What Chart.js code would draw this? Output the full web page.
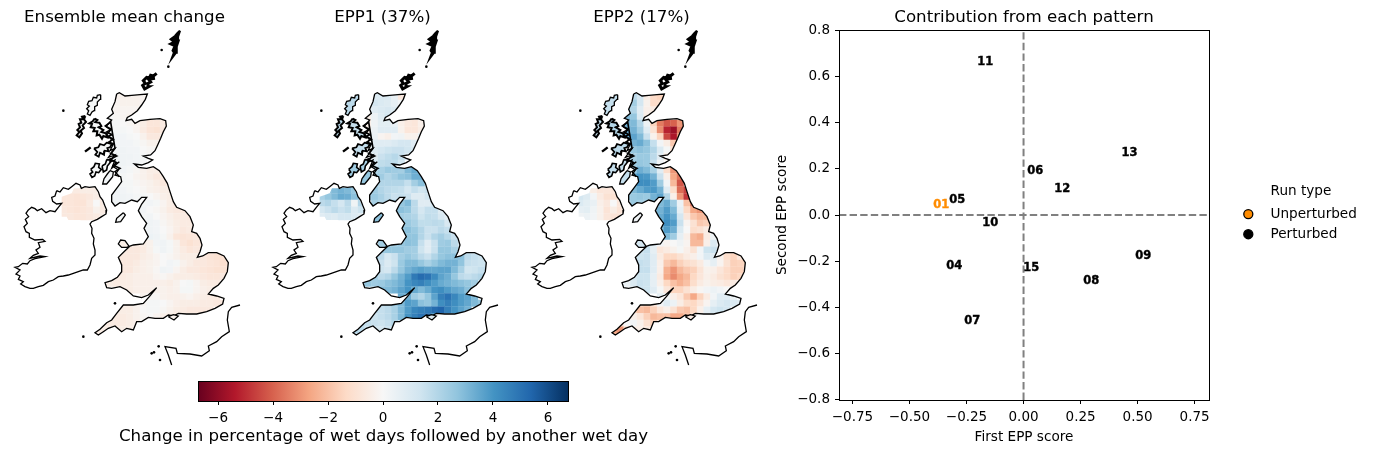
<!DOCTYPE html>
<html><head><meta charset="utf-8">
<style>html,body{margin:0;padding:0;background:#fff;width:1376px;height:454px;overflow:hidden}canvas{position:absolute}</style>
<script src="https://cdn.jsdelivr.net/npm/chart.js@4/dist/chart.umd.js"></script>
</head><body>
<canvas id="m0" width="249" height="370" style="left:0;top:0"></canvas>
<canvas id="m1" width="249" height="370" style="left:258px;top:0"></canvas>
<canvas id="m2" width="249" height="370" style="left:517px;top:0"></canvas>
<canvas id="cb" width="567" height="84" style="left:100px;top:370px"></canvas>
<canvas id="sc" width="450" height="454" style="left:770px;top:0"></canvas>
<canvas id="lg" width="141" height="100" style="left:1235px;top:166px"></canvas>
<script>
// ---------- data ----------
const panelTitles=['Ensemble mean change','EPP1 (37%)','EPP2 (17%)'];
// grid rows: northing of each row, easting of first cell (map units); last 5 rows are Northern Ireland
const gridY=[230,250,270,290,310,330,350,370,390,410,430,450,470,490,510,530,550,570,590,610,630,650,670,690,710,730,750,770,790,810,830,850,870,890,910,930,950,510,530,550,570,590];
const gridStart=[350,350,330,330,330,330,330,350,350,350,350,350,350,350,350,330,350,410,430,430,430,450,370,350,350,370,350,330,310,370,430,370,350,330,310,290,290,190,190,190,190,190];
const meanChange=[
[-.3,-.3,-.3,-.3,-.2],[-.2,-.3,-.3,-.3,-.2],[0,-.2,-.2,-.2,-.2],[0,-.1,-.2,-.3],
[0,.1,0,-.1,-.2,-.5,-.8,-.8,-.6],[.1,.1,.1,0,-.2,-.6,-.9,-1,-.7],[.2,.2,.2,.1,0,-.3,-.7,-.7,-.5],
[.2,.2,.2,.1,-.1,-.3,-.3],[.2,.3,.2,.2,0,-.1,-.1],[.3,.3,.3,.2,.1,0],[.3,.3,.2,.2,.1],
[.2,.2,.1,-.1,-.3,-.5,-.5],[.2,.1,0,-.2,-.3,-.5,-.7,-.6],[.2,.1,.1,-.1,-.2,-.3,-.5,-.7],
[.3,.2,.1,0,-.1,-.3,-.4,-.5,-.5],[.2,.3,.3,.2,.1,.1,0,-.2,-.4,-.5],[.3,.3,.3,.2,.1,.2,.1,-.2,-.5,-.7],
[.2,.2,0,-.1,-.3,-.6,-.7,-.7],[.1,.2,0,-.2,-.4,-.6,-.6,-.7],[.2,.3,.2,-.1,-.3,-.5,-.6,-.6,-.7],
[.2,.3,.2,0,-.2,-.5,-.7,-.6,-.5],[.4,.3,.1,-.3,-.8,-.9,-.8,-.7,-.6],
[-.5,-.6,-.6,-.5,-.3,.2,.3,.1,-.3,-.8,-1,-.8,-.7],[-.3,-.6,-.7,-.7,-.6,-.3,.1,.3,.1,-.3,-.6,-.8,-.7,-.7],
[-.3,-.7,-.7,-.7,-.5,-.4,-.2,0,-.1,-.3,-.5,-.5,-.5,-.7,-.9,-1,-1],
[-.7,-.7,-.6,-.4,-.3,-.2,0,.2,.1,-.3,-.5,-.7,-.7,-.8,-.9,-1.1,-1],
[-.6,-.7,-.7,-.5,-.4,-.3,-.1,.3,.2,-.2,-.5,-.7,-.7,-.8,-.9,-1,-1,-.9],
[-.6,-.6,-.6,-.5,-.4,-.4,-.4,-.2,-.1,-.3,-.5,-.5,-.5,-.6,-.7,-.8,-.8,-.7],
[-.5,-.5,-.6,-.5,-.5,-.4,-.4,-.4,-.4,-.4,-.5,-.3,0,.1,-.2,-.5,-.6,-.6],
[-.5,-.5,-.4,-.4,-.4,-.3,-.3,-.4,-.3,.1,.1,-.2,-.4,-.5],
[-.3,-.1,-.1,-.3,-.4,-.4,-.3,-.2,-.4,-.5,-.6,-.6],
[-.3,-.5,-.3,-.1,.1,.1,0,-.2,-.4,-.5,-.5,-.5,-.6,-.6,-.7,-.7],
[-.5,-.5,-.5,-.3,0,.1,.1,-.1,-.3,-.5,-.6,-.7,-.7,-.7,-.7],
[-.5,-.6,-.6,-.5,-.3,-.1,0,-.2,-.4,-.5,-.6,-.6],
[-.5,-.6,-.6,-.6,-.5,-.4],[-.5,-.5,-.5,-.5,-.5,-.5],[-.5,-.5],
[-.6,-.6,-.6,-.5,-.5,-.5,-.5],[-.8,-.8,-.9,-.8,-.7,-.5,-.5],[-.8,-.8,-.9,-.9,-.6,0,-.6],[-.7,-.8,-.9,-.8,-.7,-.3,-.6],[-.7,-.7,-.8,-.8,-.7,-.6,-.5]];
const epp1=[
[1,1,1,.5,-.7],[1.2,1,.9,.6,.2],[.3,.8,1,1.1,1],[-.4,.4,.9,1.3],
[-.4,.3,.7,.7,.5,-.4,-.7,-.8,-.4],[-.4,.4,.8,.8,.8,-.3,-.8,-.8,-.5],[.4,.4,-.2,-.4,.2,.3,-.3,-.3,.5],
[.8,.8,.8,1,1.2,1.2,.8],[1,1.2,1.4,1.5,1.5,1.3,1.2],[.9,1.5,1.7,1.9,1.6,1],[1.2,1.7,1.8,1.7,1.3],
[1.9,2.2,2.5,2.4,2.3,3,3.4],[2.3,2.4,2,2.3,2.7,2.8,3.3,3.3],[2.3,2,2,2,2,1.6,2.3,2.8],
[2.4,2,1.8,1.7,1.6,1.2,1.6,1.3,1.5],[2.5,2.5,2.2,1.8,1.5,1.6,1.5,.9,.9,1.3],[2.2,2,2,2.2,2.6,3,1.8,.8,.8,1.2],
[2.4,2.8,2.6,1.8,1.2,1.6,1.6,.9],[2.3,2.2,2,1.4,1.7,1.6,1.1,.7],[2.4,2.5,2.2,1.7,1.7,1.8,1.7,1.1,.9],
[2.7,2.8,2.5,2,1.5,1.5,1.8,1.6,1.1],[2.7,2.7,2,1.5,2,2.3,1.9,1.5,.8],
[2.3,2.4,2.4,2.6,2.8,2.7,1.6,.8,1.5,2.4,2.5,1.8,1.2],[2.6,2.6,2.6,2.6,2.6,2.4,2.3,1.4,.8,1.5,2.6,2.6,2.2,1.4],
[2.5,1.8,1.2,1.5,2.3,2.6,2.3,1.8,1.5,2,2.6,2.8,2.8,2.8,1.8,1.6,1.4],
[1.5,1,1.4,2.5,3,3,2.6,2.2,2.6,3,3.2,3.2,2.7,1.6,1.5,1.4,1.5],
[1.8,1.4,1.2,1.8,2.6,3.2,3.5,3.7,3.5,3.5,3.6,3.6,3,2.2,1.3,1.4,1.6,1.8],
[2.5,2.3,1.8,2,2.6,3.2,3.8,4.8,5.2,5,4.3,3.6,3.3,2.6,1.8,1.6,1.8,2],
[2.6,2.6,2.4,2.5,2.8,3,3.3,4,4.4,4.6,4.2,3.8,3.4,3.2,3,2.8,2.6,2.3],
[3,3,3.2,3.6,4,3.4,3,3.4,4,4.2,3.8,3.5,3.3,2.8],
[3.4,3.3,2.4,2,2.6,3.6,4.6,5,4.4,3.8,3.6,3],
[2,2.2,2.6,3,3.8,3.6,2.8,2.6,3.2,4.2,4.6,4.2,3.8,3.5,3,2.6],
[1.8,1.6,1.8,2.2,3,3.8,4.4,4.6,4.8,5.2,5.4,4.6,4,3.6,3.2],
[1.6,1.4,1.6,1.8,2.2,3,4,4.6,5,5.2,4,3],
[1.8,1.6,1.5,1.4,1.6,2],[2,1.8,1.4,1.2,1.2,1.4],[1.5,1.5],
[2.6,2.6,3,3.2,3,2.6,2.2],[2.2,2.6,3,3.4,3.3,2.8,2.4],[1.8,2,1.6,1.2,1.8,.3,2],[1.2,1.5,1.8,1.5,1.7,1,1.4],[.8,1,.9,1.2,1.2,1,.7]];
const epp2=[
[1.8,1.2,-.5,-1.3,-1.5],[2.3,1.2,-.3,-1.3,-1.2],[2.6,2,.8,-.4,-.6],[3,2.6,1,-.5],
[3.2,3,2,.4,-1.5,-3.5,-4.2,-4,-3],[3.5,3.2,2.4,.8,-1,-3.2,-5.2,-5.8,-3.5],[3.4,3.6,3,1.5,-.3,-1.5,-4.5,-5.5,-3],
[3.2,3.4,2.8,1.6,.2,-.5,-1.8],[2.6,2.8,2.6,2,1,.1,-1],[2.2,2.5,2.5,1.8,.8,-.5],[2.4,2.6,2.5,1.5,.2],
[2.5,3.3,3,2.2,.8,-1.2,-3],[3.5,4,3.9,3.2,1.5,-.4,-2.6,-3.6],[3.5,4.2,4.2,3.8,2.4,.2,-2.2,-4.2],
[3,3.4,3.8,3.9,3.2,.8,-1.2,-3.8,-4.6],[2.5,2.5,2.6,2.5,3.2,3.6,2,-.4,-3,-4.8],[2.5,2.3,2.2,2.6,3,3.4,2.4,.4,-2,-3.8],
[2.6,3.2,3.8,3,.6,-1.4,-2.6,-3],[3.4,4,3.4,1.2,-.8,-1.8,-2.2,-2.2],[3.4,4.2,3.8,1.5,-.2,-1,-1.8,-1.6,-1.4],
[3,3.8,3.3,1,0,-1.2,-1,-.6,-.8],[3,2.4,.6,-.4,-2.2,-2.5,-.6,.3,-.6],
[1.2,1.6,.8,.2,-.2,0,.3,-.2,-2.2,-2.2,-.4,1,.2],[1.2,1.4,1.6,.6,-.8,-.6,-.3,.1,-.4,-1,.2,1.4,1.5,.4],
[1,1.4,1.5,.8,-.6,-1.4,-1.4,-1,-.6,-.4,.2,1,.8,-.3,-1.2,-1.5,-.8],
[1.6,1.5,.8,-.4,-1.8,-2.2,-1.6,-1.2,-1,-.6,.2,.6,-.2,-1,-1.6,-1.5,-1.5],
[1.2,1.6,1.6,.8,-.4,-2.4,-3,-2.2,-1.8,-1.6,-.9,-.3,-.4,-.8,-1.3,-1.6,-1.6,-1.3],
[1.2,1.2,1.4,1.4,.6,-.6,-2.6,-3.2,-2.6,-2.2,-1.4,-.8,-.4,-.6,-1,-1.3,-1.6,-1.4],
[.3,.4,1,1.5,1.4,.6,-.4,-1.4,-2,-2.4,-2,-1.2,-.6,-.3,-.5,-.6,-.8,-.6],
[1.5,1.4,.8,.1,-.8,-1.5,-1.5,-1,-.5,-.1,.2,.4,.2,0],
[.6,.2,-.4,-.8,-1.8,-2.6,-1.5,-.6,.2,.8,.8,.4],
[-1.2,-1.6,-.8,.2,.8,.4,-.5,-1.2,-1.4,-.8,-.2,.6,1,1.2,1,.8],
[-1.5,-2,-2.2,-1.6,-.8,-.4,-1,-1.8,-2,-1.4,-.4,.6,1.2,1.4,1.2],
[-.8,-.4,-.8,-1.6,-2.2,-2,-2,-2.6,-2.6,-2,-1.2,-.4],
[-1.2,0,.2,-.3,-1,-1.6],[-2.6,-3,-1.4,-.6,-.4,-.6],[-2.6,-2.6],
[.6,.3,-.5,-.8,-.8,-.8,-.9],[1.2,.9,.2,-.6,-1,-1,-.9],[1,.7,.5,-.4,-.7,0,-.8],[.6,.7,.3,-.3,-.9,-.5,-.9],[.3,.4,.2,-.3,-.8,-.9,-.9]];
const panelValues=[meanChange,epp1,epp2];

// coastlines, easting/northing pairs in map units
const gbCoast=[350,222,358,218,375,228,395,226,420,224,442,222,436,238,425,255,412,272,395,285,382,292,378,302,395,298,405,310,420,302,450,298,480,296,497,302,499,318,490,335,482,355,473,375,465,392,452,405,430,408,445,415,458,420,445,428,425,435,403,432,415,442,440,445,460,440,478,452,490,470,502,490,510,515,520,545,530,562,555,572,570,590,580,615,575,635,590,640,600,655,606,675,600,695,592,712,608,708,625,698,650,698,672,708,685,728,682,755,672,775,655,795,640,805,625,822,650,828,672,835,668,852,645,865,620,875,590,882,560,882,535,880,520,888,505,885,490,895,465,895,445,892,425,905,410,905,400,930,380,925,365,935,345,918,325,925,310,935,295,945,285,938,300,928,320,908,335,900,350,880,370,855,400,855,430,850,448,830,470,803,445,825,425,833,400,828,380,810,360,800,335,805,320,803,315,788,335,782,352,772,365,755,365,735,355,712,372,695,388,680,375,662,362,660,355,672,365,682,380,682,400,675,430,672,445,650,432,625,440,610,425,590,415,572,425,552,440,532,425,532,412,545,395,540,375,550,360,548,345,558,335,545,335,525,350,505,365,485,362,470,345,465,355,450,340,440,358,425,335,445,345,420,328,428,345,405,325,412,345,385,330,392,340,372,325,378,335,355,320,345,332,330,318,320,335,300,322,295,340,280,335,268,345,245,350,222];
const niMask=[185,530,215,520,222,505,245,505,285,500,305,540,320,575,295,598,280,606,245,606,240,600,205,600,200,590,185,590,185,530];
const irelandCoast=[170,512,180,516,190,503,205,508,215,500,228,490,240,495,244,505,255,500,268,502,285,500,295,515,300,530,308,540,314,556,320,570,318,582,305,590,292,598,275,605,270,612,276,625,275,640,282,655,280,672,285,690,285,705,275,715,270,735,262,750,250,750,235,755,220,760,205,765,190,768,175,770,160,780,145,785,130,796,115,800,100,805,90,805,75,800,62,792,70,785,55,778,60,768,48,762,60,750,45,742,55,740,68,730,82,732,90,722,105,716,135,710,120,708,90,715,100,706,115,700,108,690,120,682,115,668,135,664,128,658,105,660,88,652,88,640,78,635,72,620,82,610,76,598,86,590,78,580,85,570,95,562,105,566,112,572,125,566,138,578,150,572,165,575,175,562,185,550,170,552,158,544,155,532,165,528,170,512];
const franceCoast=[720,855,695,862,685,875,682,900,688,935,665,950,650,965,625,978,628,992,605,1008,570,1002,532,1000,528,985,495,980,505,1005,515,1035];
const lewis=[302,224,292,226,290,234,280,232,276,242,266,244,262,254,268,258,260,266,266,272,262,282,270,286,276,276,282,272,284,260,292,256,292,246,300,238,302,224];
const uist=[256,288,246,290,250,298,240,298,244,308,236,312,240,322,232,330,238,336,230,346,238,352,246,340,242,332,252,324,248,316,258,306,252,298,256,288];
const skye=[284,296,292,300,286,306,298,308,304,318,296,322,310,330,304,336,318,340,322,352,310,348,306,356,298,344,290,346,292,334,280,334,284,324,272,322,276,312,268,310,278,304,284,296];
const mull=[282,385,295,382,300,372,312,376,320,368,336,372,330,382,322,384,326,394,314,392,312,404,300,398,296,410,286,404,292,396,282,385];
const islay=[272,448,282,440,286,430,298,432,296,442,304,448,296,458,288,456,284,468,276,472,270,462,278,456,272,448];
const jura=[306,438,316,432,320,420,332,418,330,428,322,438,320,450,310,456,306,438];
const kintyre=[330,452,340,456,338,470,330,480,320,492,308,492,312,476,322,462,330,452];
const isleOfMan=[370,578,376,585,362,605,347,607,350,595,370,578];
const isleOfWight=[505,890,520,884,535,888,522,900,505,890];
const shetland=[540,32,532,40,525,48,512,58,522,66,510,72,524,78,518,92,522,98,516,114,528,98,530,80,536,62,534,50,540,32];
const orkney=[470,160,460,168,452,166,448,174,440,172,430,182,436,190,428,196,434,207,446,200,444,190,452,186,446,178,465,175];
const skerries=[255,395,272,382];
const lochs=[342,372,326,366,340,358,322,350,336,344,320,336,334,328,316,318,332,306,345,385,332,400,350,408,330,418,350,428,340,436,360,445,345,455,358,470];
const islets=[190,272,485,90,505,140,345,850,250,950,455,1000,462,997,480,1020,476,979];
// colour of each island per panel: meanChange, epp1, epp2
const islandShapes=[lewis,uist,skye,mull,islay,jura,kintyre,isleOfMan,isleOfWight];
const islandStroke=[1.3,2,2,1.8,1.6,1.6,1.3,1.3,1.2];
const islandValues=[[.1,.1,.1,.1,.1,.1,.2,.1,-.3],[1.8,1.8,1.6,1.6,2.4,2.2,2.6,2.8,1],[1.6,1.6,2,1.8,1.6,1.6,1.6,.3,-.6]];

const colourbarRange=[-6.73,6.73];
const colourbarTicks=[-6,-4,-2,0,2,4,6];
const colourbarLabel='Change in percentage of wet days followed by another wet day';
const rdbuStops=['#67001f','#b2182b','#d6604d','#f4a582','#fddbc7','#f7f7f7','#d1e5f0','#92c5de','#4393c3','#2166ac','#053061'];

const runIds=['05','06','10','11','12','13','04','15','08','09','07'];
const firstScore=[-.294,.048,-.149,-.171,.167,.461,-.307,.031,.294,.522,-.228];
const secondScore=[.07,.196,-.03,.67,.117,.274,-.217,-.226,-.283,-.174,-.457];
const unperturbedIds=['01'];
const unperturbedFirst=[-.364];
const unperturbedSecond=[.048];
const xLimits=[-.809,.813];
const yLimits=[-.804,.804];
const xTicks=[-.75,-.5,-.25,0,.25,.5,.75];
const yTicks=[-.8,-.6,-.4,-.2,0,.2,.4,.6,.8];

// ---------- helpers ----------
const FONT='"DejaVu Sans"';
Chart.defaults.font.family=FONT;
Chart.defaults.color='#000';
const MINUS='\u2212';
const fmt=(v,d)=>(v<0?MINUS:'')+Math.abs(v).toFixed(d);
const toPts=f=>{const o=[];for(let i=0;i<f.length;i+=2)o.push({x:f[i],y:f[i+1]});return o;};
const hex=h=>[1,3,5].map(i=>parseInt(h.slice(i,i+2),16));
function rdbu(v){
  let t=(v+6.73)/13.46; t=Math.max(0,Math.min(1,t))*10;
  const i=Math.min(9,Math.floor(t)),f=t-i,a=hex(rdbuStops[i]),b=hex(rdbuStops[i+1]);
  return 'rgb('+a.map((c,k)=>Math.round(c+(b[k]-c)*f)).join(',')+')';
}
const line=(flat,w,fill)=>({type:'scatter',showLine:true,data:toPts(flat),borderColor:'#000',borderWidth:w,pointRadius:0,tension:0,fill:fill?'shape':false,backgroundColor:fill||'transparent',order:1});

const landClip={id:'landClip',
  beforeDatasetDraw(c,a){ if(a.meta.controller.getDataset().isCells){
    const x=c.scales.x,y=c.scales.y,ctx=c.ctx;ctx.save();ctx.beginPath();
    [gbCoast,niMask].forEach(p=>{for(let i=0;i<p.length;i+=2){const X=x.getPixelForValue(p[i]),Y=y.getPixelForValue(p[i+1]);i?ctx.lineTo(X,Y):ctx.moveTo(X,Y);}ctx.closePath();});
    ctx.clip();}},
  afterDatasetDraw(c,a){ if(a.meta.controller.getDataset().isCells)c.ctx.restore(); }
};

panelTitles.forEach((title,p)=>{
  const cells=[];
  panelValues[p].forEach((row,r)=>row.forEach((v,j)=>cells.push({x:gridStart[r]+20*j,y:gridY[r],v})));
  const datasets=[
    {type:'scatter',isCells:true,data:cells,pointStyle:'rect',pointRadius:4.95,pointBorderWidth:0,borderWidth:0,
     pointBackgroundColor:c=>rdbu(c.raw.v),order:3},
    ...islandShapes.map((s,i)=>line(s,islandStroke[i],rdbu(islandValues[p][i]))),
    line(gbCoast,1.3),line(irelandCoast,1.3),line(franceCoast,1.3),line(lochs,1.6),
    line(shetland,2.2,'#000'),line(orkney,3),line(skerries,2.4),
    {type:'scatter',data:toPts(islets),pointRadius:1.3,pointBorderWidth:0,pointBackgroundColor:'#000',order:1}
  ];
  new Chart(document.getElementById('m'+p),{type:'scatter',plugins:[landClip],data:{datasets},options:{
    responsive:false,animation:false,events:[],
    layout:{padding:0,autoPadding:false},
    plugins:{legend:{display:false},tooltip:{enabled:false},
      title:{display:true,text:title,font:{size:16.67,weight:'normal',lineHeight:1.2},padding:{top:8,bottom:2},color:'#000'}},
    scales:{x:{type:'linear',display:false,min:0,max:747},y:{type:'linear',display:false,min:30,max:1050,reverse:true}}
  }});
});

const frame={id:'frame',afterDatasetsDraw(c){const a=c.chartArea,x=c.ctx;x.save();x.strokeStyle='#000';x.lineWidth=1;
  x.strokeRect(Math.round(a.left)+.5,Math.round(a.top)+.5,Math.round(a.width),Math.round(a.height));x.restore();}};
const titleOverArea={id:'titleOverArea',afterLayout(c){c.titleBlock.left=c.chartArea.left;c.titleBlock.right=c.chartArea.right;}};
const titleFullWidth={id:'titleFullWidth',afterLayout(c){c.titleBlock.left=0;c.titleBlock.right=c.width;}};

new Chart(document.getElementById('cb'),{type:'bar',plugins:[frame,titleFullWidth],
  data:{labels:[''],datasets:[{data:[colourbarRange],barPercentage:1,categoryPercentage:1,borderWidth:0,
    backgroundColor(c){const a=c.chart.chartArea;if(!a)return '#fff';
      const g=c.chart.ctx.createLinearGradient(a.left,0,a.right,0);
      rdbuStops.forEach((s,i)=>g.addColorStop(i/10,s));return g;}}]},
  options:{indexAxis:'y',responsive:false,animation:false,events:[],
    layout:{padding:{left:98,right:99,top:11,bottom:0},autoPadding:false},
    plugins:{legend:{display:false},tooltip:{enabled:false},
      title:{display:true,position:'bottom',text:colourbarLabel,font:{size:16.67,weight:'normal',lineHeight:1.2},color:'#000',padding:{top:0,bottom:7}}},
    scales:{
      y:{display:false},
      x:{type:'linear',min:colourbarRange[0],max:colourbarRange[1],
        afterBuildTicks:s=>{s.ticks=colourbarTicks.map(value=>({value}));},
        afterFit:s=>{s.height=26;},
        grid:{drawOnChartArea:false,color:'#000',tickLength:4,tickWidth:1},border:{color:'#000'},
        ticks:{maxRotation:0,padding:5,font:{size:13.5},color:'#000',callback:v=>fmt(v,0)}}
    }}});

const runLabels={id:'runLabels',afterDatasetsDraw(c){const ctx=c.ctx;ctx.save();ctx.textAlign='center';ctx.textBaseline='middle';
  ctx.font='bold 11.5px '+FONT;ctx.lineWidth=.4;
  c.data.datasets.forEach((d,i)=>{if(!d.ids)return;ctx.fillStyle=d.textColor;ctx.strokeStyle=d.textColor;
    c.getDatasetMeta(i).data.forEach((el,k)=>{ctx.fillText(d.ids[k],el.x+.7,el.y+.8);ctx.strokeText(d.ids[k],el.x+.7,el.y+.8);});});ctx.restore();}};
const zip=(a,b)=>a.map((x,i)=>({x,y:b[i]}));
const dash=(x,y)=>({type:'scatter',showLine:true,data:zip(x,y),borderColor:'#808080',borderWidth:2,borderDash:[7.4,3.2],pointRadius:0});
new Chart(document.getElementById('sc'),{type:'scatter',plugins:[frame,runLabels,titleOverArea],
  data:{datasets:[
    {data:zip(unperturbedFirst,unperturbedSecond),ids:unperturbedIds,textColor:'#ff8c00',pointRadius:0},
    {data:zip(firstScore,secondScore),ids:runIds,textColor:'#000',pointRadius:0},
    dash(xLimits,[0,0]),dash([0,0],yLimits)]},
  options:{responsive:false,animation:false,events:[],
    layout:{padding:{left:0,right:11,top:0,bottom:0},autoPadding:false},
    plugins:{legend:{display:false},tooltip:{enabled:false},
      title:{display:true,text:'Contribution from each pattern',font:{size:16.67,weight:'normal',lineHeight:1.2},padding:{top:8,bottom:2},color:'#000'}},
    scales:{
      x:{type:'linear',min:xLimits[0],max:xLimits[1],
        afterBuildTicks:s=>{s.ticks=xTicks.map(value=>({value}));},
        afterFit:s=>{s.height=54;},
        grid:{drawOnChartArea:false,color:'#000',tickLength:4},border:{color:'#000'},
        ticks:{maxRotation:0,padding:5,font:{size:13.5},color:'#000',callback:v=>fmt(v,2)},
        title:{display:true,text:'First EPP score',font:{size:13.6},color:'#000',padding:{top:2,bottom:8}}},
      y:{type:'linear',min:yLimits[0],max:yLimits[1],
        afterBuildTicks:s=>{s.ticks=yTicks.map(value=>({value}));},
        afterFit:s=>{s.width=69;},
        grid:{drawOnChartArea:false,color:'#000',tickLength:4},border:{color:'#000'},
        ticks:{padding:5,font:{size:13.5},color:'#000',callback:v=>fmt(v,1)},
        title:{display:true,text:'Second EPP score',font:{size:13.6},color:'#000',padding:{top:4,bottom:4}}}
    }}});

const runTypes=['Unperturbed','Perturbed'];
const runTypeFill=['#ff8c00','#000'];
new Chart(document.getElementById('lg'),{type:'scatter',
  data:{datasets:runTypes.map((label,i)=>({label,data:[],pointStyle:'circle',backgroundColor:runTypeFill[i],borderColor:'#000',borderWidth:1.3}))},
  options:{responsive:false,animation:false,events:[],
    plugins:{tooltip:{enabled:false},legend:{display:true,position:'left',align:'center',maxWidth:141,
      title:{display:true,text:'Run type',color:'#000',font:{size:13.6},padding:{top:0,bottom:0}},
      labels:{usePointStyle:true,boxHeight:6.4,color:'#000',font:{size:13.6},padding:6.5,
        generateLabels:c=>c.data.datasets.map((d,i)=>({text:'\u00a0\u00a0'+d.label,fillStyle:d.backgroundColor,strokeStyle:d.borderColor,lineWidth:d.borderWidth,pointStyle:d.pointStyle,datasetIndex:i,fontColor:'#000'}))}}},
    scales:{x:{display:false},y:{display:false}}}});
</script>
</body></html>
